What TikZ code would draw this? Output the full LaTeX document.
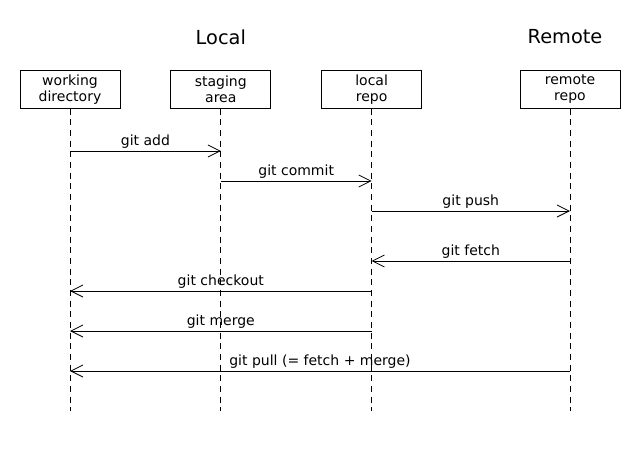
\documentclass[tikz,border=0pt]{standalone}
\usepackage{fontspec}
\setmainfont{DejaVu Sans}
\usetikzlibrary{calc, positioning, arrows.meta}

\begin{document}
\begin{tikzpicture}[x=0.75pt, y=-0.75pt, node distance=37.5pt, font=\fontsize{10.5}{12}\selectfont]
    % Definindo os estilos
    \tikzstyle{actor} = [rectangle, draw, line width=0.6pt, minimum width=75pt, minimum height=28pt, align=center, inner sep=0pt]
    \tikzstyle{title} = [font=\fontsize{14.5}{17}\selectfont]
    \tikzstyle{lifeline} = [draw, line width=0.6pt, dash pattern=on 4.5pt off 3.5pt]
    \tikzstyle{msg} = [draw, line width=0.6pt, -{Straight Barb[length=9pt, width=9pt, line width=0.6pt]}]
    \tikzstyle{label} = [above, inner sep=1.5pt]

    % Quadro
    \useasboundingbox (0,0) rectangle (640,450);

    % Participantes
    \node [actor] (wd) at (70,89.5) {working\\directory};
    \node [actor, right=of wd] (stage) {staging\\area};
    \node [actor, right=of stage] (lrepo) {local\\repo};
    \node [actor] (rrepo) at (570,89.5) {remote\\repo};

    % Titulos
    \node [title] (local) at (stage |- 0,37) {Local};
    \node [title] (remote) at (565,37) {Remote};

    % Linhas de vida
    \foreach \n in {wd, stage, lrepo, rrepo} {
        \coordinate (\n end) at ($(\n.south)+(0,-226.5pt)$);
        \path [lifeline] (\n.south) -- (\n end);
    }

    % Mensagens
    \path [msg] (wd |- 0,151) -- node [label] {git add} (stage |- 0,151);
    \path [msg] (stage |- 0,181) -- node [label] {git commit} (lrepo |- 0,181);
    \path [msg] (lrepo |- 0,211) -- node [label] {git push} (rrepo |- 0,211);
    \path [msg] (rrepo |- 0,261) -- node [label] {git fetch} (lrepo |- 0,261);
    \path [msg] (lrepo |- 0,291) -- node [label] {git checkout} (wd |- 0,291);
    \path [msg] (lrepo |- 0,331) -- node [label] {git merge} (wd |- 0,331);
    \path [msg] (rrepo |- 0,371) -- node [label] {git pull (= fetch + merge)} (wd |- 0,371);
\end{tikzpicture}
\end{document}
